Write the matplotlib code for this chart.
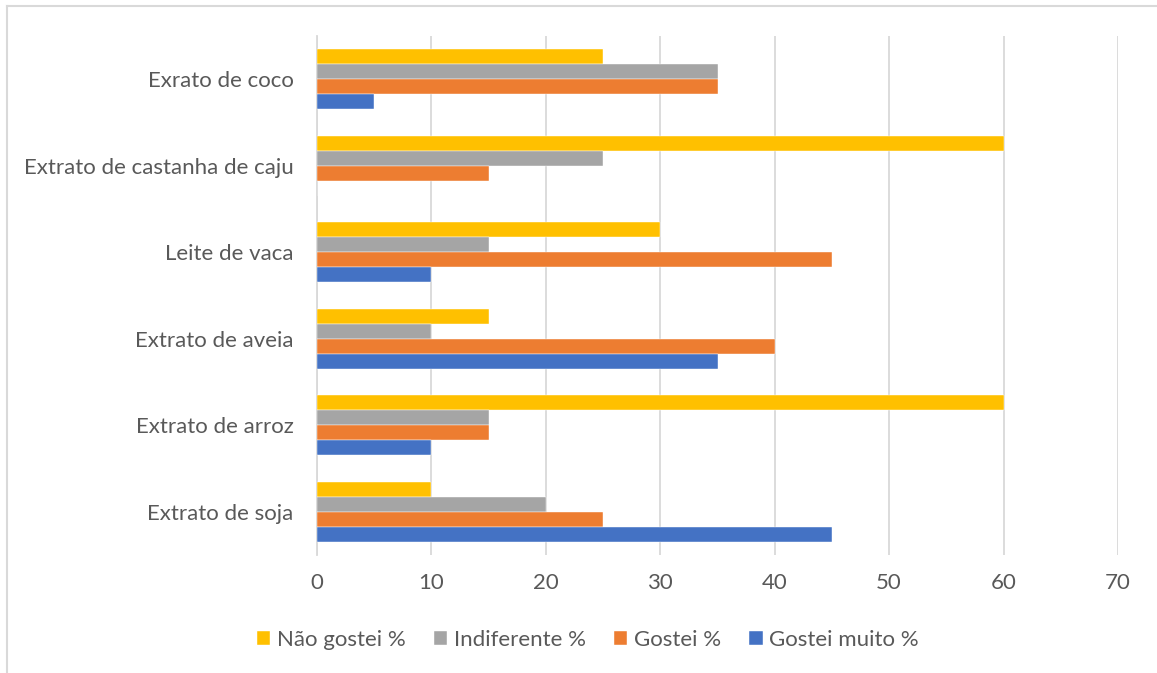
import numpy as np
import matplotlib.pyplot as plt
from matplotlib.lines import Line2D

categorias = ["Extrato de soja", "Extrato de arroz", "Extrato de aveia",
              "Leite de vaca", "Extrato de castanha de caju", "Exrato de coco"]

nao_gostei = [10, 60, 15, 30, 60, 25]
indiferente = [20, 15, 10, 15, 25, 35]
gostei = [25, 15, 40, 45, 15, 35]
gostei_muito = [45, 10, 35, 10, 0, 5]

series = [
    ("Não gostei %", nao_gostei, "#FFC000"),
    ("Indiferente %", indiferente, "#A5A5A5"),
    ("Gostei %", gostei, "#ED7D31"),
    ("Gostei muito %", gostei_muito, "#4472C4"),
]

plt.rcParams['font.family'] = ['Lato', 'DejaVu Sans']
cor_texto = "#595959"
cor_grade = "#D9D9D9"
tam = 16

fig = plt.figure(figsize=(11.57, 6.73), dpi=100)
ax = fig.add_axes([317 / 1157, 1 - 555 / 673, (1118 - 317) / 1157, (555 - 36) / 673])

y = np.arange(len(categorias))
h = 0.1734
for i, (nome, vals, cor) in enumerate(series):
    # primeira série fica no topo do grupo
    offset = (1.5 - i) * h
    ax.barh(y + offset, vals, height=h, color=cor, label=nome,
            edgecolor="white", linewidth=0.3, zorder=3)

ax.set_xlim(0, 70)
ax.set_ylim(-0.5, len(categorias) - 0.5)
ax.set_xticks(range(0, 71, 10))
ax.set_yticks(y)
ax.set_yticklabels(categorias)
ax.tick_params(length=0, labelsize=tam, colors=cor_texto)
ax.tick_params(axis="x", pad=13)
ax.tick_params(axis="y", pad=17)
ax.grid(axis="x", color=cor_grade, linewidth=1.3, zorder=0)
for s in ["top", "right", "bottom"]:
    ax.spines[s].set_visible(False)
ax.spines["left"].set_color(cor_grade)
ax.spines["left"].set_linewidth(1.3)

# moldura do gráfico
fig.add_artist(Line2D([7 / 1157, 1], [1 - 6 / 673] * 2, color="#D9D9D9", lw=1.5))
fig.add_artist(Line2D([7 / 1157] * 2, [0, 1 - 6 / 673], color="#D9D9D9", lw=1.5))

fig.legend(loc="center", bbox_to_anchor=(588 / 1157, 1 - 640 / 673), ncol=4,
           frameon=False, fontsize=tam, labelcolor=cor_texto,
           handlelength=0.6, handleheight=0.6, handletextpad=0.3, columnspacing=1.27)

fig.savefig("out.png", dpi=100)
